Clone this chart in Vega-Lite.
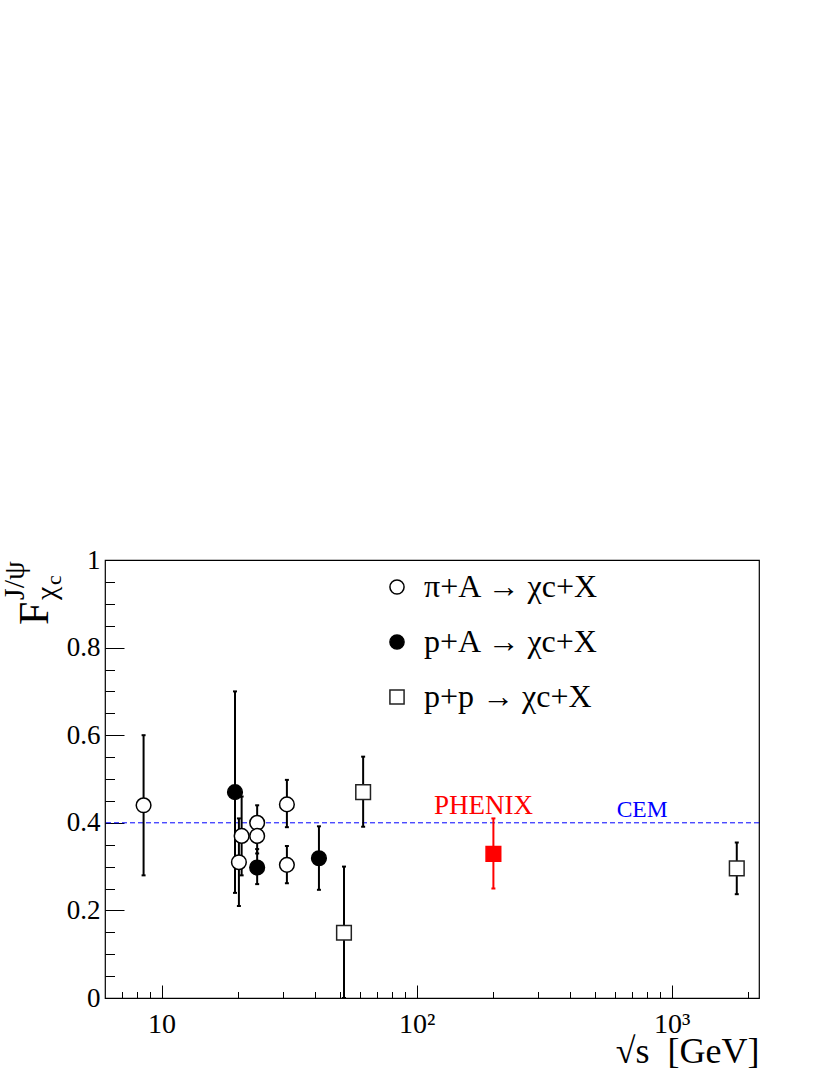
{
  "$schema": "https://vega.github.io/schema/vega-lite/v6.json",
  "width": 654,
  "height": 438,
  "autosize": "none",
  "padding": {"left": 105, "top": 560, "right": 71, "bottom": 77},
  "background": "white",
  "config": {
    "view": {"stroke": "black", "strokeWidth": 1.2},
    "axis": {"grid": false, "domain": false, "labelFont": "Liberation Serif", "titleFont": "Liberation Serif", "labelColor": "black", "titleColor": "black", "tickColor": "black", "tickWidth": 1, "labelFlush": false, "labelOverlap": false},
    "legend": {"labelFont": "Liberation Serif", "labelFontSize": 32, "labelColor": "black", "labelLimit": 500}
  },
  "data": {
    "values": [
      {"group": "π+A → χc+X", "x": 8.5, "y": 0.44, "lo": 0.28, "hi": 0.60},
      {"group": "π+A → χc+X", "x": 20.1, "y": 0.31, "lo": 0.21, "hi": 0.41},
      {"group": "π+A → χc+X", "x": 20.6, "y": 0.37, "lo": 0.28, "hi": 0.46},
      {"group": "π+A → χc+X", "x": 23.7, "y": 0.40, "lo": 0.36, "hi": 0.44},
      {"group": "π+A → χc+X", "x": 23.7, "y": 0.37, "lo": 0.33, "hi": 0.40},
      {"group": "π+A → χc+X", "x": 31.0, "y": 0.442, "lo": 0.39, "hi": 0.498},
      {"group": "π+A → χc+X", "x": 31.0, "y": 0.304, "lo": 0.262, "hi": 0.347},
      {"group": "p+A → χc+X", "x": 19.4, "y": 0.47, "lo": 0.24, "hi": 0.70},
      {"group": "p+A → χc+X", "x": 23.7, "y": 0.298, "lo": 0.26, "hi": 0.34},
      {"group": "p+A → χc+X", "x": 41.4, "y": 0.319, "lo": 0.247, "hi": 0.392},
      {"group": "p+p → χc+X", "x": 51.9, "y": 0.149, "lo": 0.0, "hi": 0.30},
      {"group": "p+p → χc+X", "x": 61.7, "y": 0.47, "lo": 0.391, "hi": 0.551},
      {"group": "p+p → χc+X", "x": 1800, "y": 0.296, "lo": 0.237, "hi": 0.355},
      {"group": "PHENIX", "x": 200, "y": 0.329, "lo": 0.25, "hi": 0.41}
    ]
  },
  "resolve": {"axis": {"x": "independent", "y": "independent"}},
  "layer": [
    {
      "data": {"values": [{}]},
      "mark": {"type": "rule", "color": "#0000ff", "strokeDash": [5, 3], "strokeWidth": 1},
      "encoding": {"y": {"datum": 0.4, "type": "quantitative", "axis": null}}
    },
    {
      "mark": {"type": "rule", "strokeWidth": 2},
      "encoding": {
        "x": {"field": "x", "type": "quantitative", "scale": {"type": "log", "domain": [6, 2200], "nice": false},
          "axis": {"orient": "bottom", "values": [10, 100, 1000], "labelExpr": "datum.value == 10 ? '10' : datum.value == 100 ? '10²' : '10³'", "labelFont": "Liberation Serif", "labelColor": "black", "labelFontSize": 28, "labelPadding": 12, "labelBaseline": "top", "labelFlush": false, "labelOverlap": false, "domain": false, "grid": false, "ticks": false, "tickSize": 0,
            "title": "√s\u00a0\u00a0[GeV]", "titleFont": "Liberation Serif", "titleColor": "black", "titleFontSize": 36, "titleFontWeight": "normal", "titleX": 654, "titleY": 64, "titleAlign": "right", "titleAnchor": "end", "titleBaseline": "alphabetic", "titleAngle": 0}},
        "y": {"field": "lo", "type": "quantitative", "scale": {"domain": [0, 1], "nice": false, "zero": true},
          "axis": {"orient": "left", "values": [0, 0.2, 0.4, 0.6, 0.8, 1], "format": "~g", "labelFont": "Liberation Serif", "labelColor": "black", "labelFontSize": 27, "labelPadding": 5, "labelFlush": false, "labelOverlap": false, "domain": false, "grid": false, "ticks": false, "tickSize": 0, "title": null}},
        "y2": {"field": "hi"},
        "color": {"condition": {"test": "datum.group === 'PHENIX'", "value": "#ff0000"}, "value": "black"}
      }
    },
    {
      "mark": {"type": "tick", "orient": "horizontal", "size": 4, "thickness": 2, "opacity": 1},
      "encoding": {
        "x": {"field": "x", "type": "quantitative", "axis": {"orient": "bottom", "values": [10, 100, 1000], "labels": false, "domain": false, "grid": false, "tickColor": "black", "tickWidth": 1, "tickSize": -13, "title": null}},
        "y": {"field": "lo", "type": "quantitative", "axis": {"orient": "left", "values": [0, 0.2, 0.4, 0.6, 0.8, 1], "labels": false, "domain": false, "grid": false, "tickColor": "black", "tickWidth": 1, "tickSize": -19, "title": null}},
        "color": {"condition": {"test": "datum.group === 'PHENIX'", "value": "#ff0000"}, "value": "black"}
      }
    },
    {
      "mark": {"type": "tick", "orient": "horizontal", "size": 4, "thickness": 2, "opacity": 1},
      "encoding": {
        "x": {"field": "x", "type": "quantitative", "axis": {"orient": "bottom", "values": [7, 8, 9, 20, 30, 40, 50, 60, 70, 80, 90, 200, 300, 400, 500, 600, 700, 800, 900, 2000], "labels": false, "domain": false, "grid": false, "tickColor": "black", "tickWidth": 1, "tickSize": -6.5, "title": null}},
        "y": {"field": "hi", "type": "quantitative", "axis": {"orient": "left", "values": [0.05, 0.1, 0.15, 0.25, 0.3, 0.35, 0.45, 0.5, 0.55, 0.65, 0.7, 0.75, 0.85, 0.9, 0.95], "labels": false, "domain": false, "grid": false, "tickColor": "black", "tickWidth": 1, "tickSize": -9.5, "title": null}},
        "color": {"condition": {"test": "datum.group === 'PHENIX'", "value": "#ff0000"}, "value": "black"}
      }
    },
    {
      "mark": {"type": "point", "opacity": 1, "strokeWidth": 1.5, "size": 215},
      "encoding": {
        "x": {"field": "x", "type": "quantitative", "axis": null},
        "y": {"field": "y", "type": "quantitative", "axis": null},
        "shape": {"field": "group", "type": "nominal",
          "scale": {"domain": ["π+A → χc+X", "p+A → χc+X", "p+p → χc+X", "PHENIX"], "range": ["circle", "circle", "square", "square"]},
          "legend": {"orient": "none", "legendX": 276, "legendY": 11, "title": null, "values": ["π+A → χc+X", "p+A → χc+X", "p+p → χc+X"], "labelFont": "Liberation Serif", "labelFontSize": 32, "labelColor": "black", "labelLimit": 500, "labelOffset": 11, "rowPadding": 23, "symbolSize": 200, "symbolStrokeWidth": 1.5, "padding": 0}},
        "fill": {"field": "group", "type": "nominal",
          "scale": {"domain": ["π+A → χc+X", "p+A → χc+X", "p+p → χc+X", "PHENIX"], "range": ["white", "black", "white", "#ff0000"]}},
        "stroke": {"field": "group", "type": "nominal",
          "scale": {"domain": ["π+A → χc+X", "p+A → χc+X", "p+p → χc+X", "PHENIX"], "range": ["black", "black", "#222222", "#ff0000"]}}
      }
    },
    {
      "transform": [{"filter": "datum.group === 'PHENIX'"}],
      "mark": {"type": "text", "text": "PHENIX", "dx": -10, "dy": -40, "align": "center", "baseline": "alphabetic", "font": "Liberation Serif", "fontSize": 27, "color": "#ff0000"},
      "encoding": {
        "x": {"field": "x", "type": "quantitative", "axis": null},
        "y": {"field": "y", "type": "quantitative", "axis": null}
      }
    },
    {
      "data": {"values": [{}]},
      "mark": {"type": "text", "text": "CEM", "dy": -5.4, "align": "center", "baseline": "alphabetic", "font": "Liberation Serif", "fontSize": 23.5, "color": "#0000ff"},
      "encoding": {
        "x": {"datum": 766, "type": "quantitative", "axis": null},
        "y": {"datum": 0.4, "type": "quantitative", "axis": null}
      }
    },
    {
      "data": {"values": [{}]},
      "mark": {"type": "text", "text": "F", "angle": 270, "dx": -65, "dy": -57, "align": "left", "baseline": "alphabetic", "font": "Liberation Serif", "fontSize": 42, "color": "black"},
      "encoding": {
        "x": {"datum": 6, "type": "quantitative", "axis": null},
        "y": {"datum": 1, "type": "quantitative", "axis": null}
      }
    },
    {
      "data": {"values": [{}]},
      "mark": {"type": "text", "text": "χ", "angle": 270, "dx": -40, "dy": -49, "align": "left", "baseline": "alphabetic", "font": "Liberation Serif", "fontSize": 30, "color": "black"},
      "encoding": {
        "x": {"datum": 6, "type": "quantitative", "axis": null},
        "y": {"datum": 1, "type": "quantitative", "axis": null}
      }
    },
    {
      "data": {"values": [{}]},
      "mark": {"type": "text", "text": "c", "angle": 270, "dx": -25, "dy": -44, "align": "left", "baseline": "alphabetic", "font": "Liberation Serif", "fontSize": 22, "color": "black"},
      "encoding": {
        "x": {"datum": 6, "type": "quantitative", "axis": null},
        "y": {"datum": 1, "type": "quantitative", "axis": null}
      }
    },
    {
      "data": {"values": [{}]},
      "mark": {"type": "text", "text": "J/ψ", "angle": 270, "dx": -40, "dy": -81, "align": "left", "baseline": "alphabetic", "font": "Liberation Serif", "fontSize": 30, "color": "black"},
      "encoding": {
        "x": {"datum": 6, "type": "quantitative", "axis": null},
        "y": {"datum": 1, "type": "quantitative", "axis": null}
      }
    }
  ]
}
